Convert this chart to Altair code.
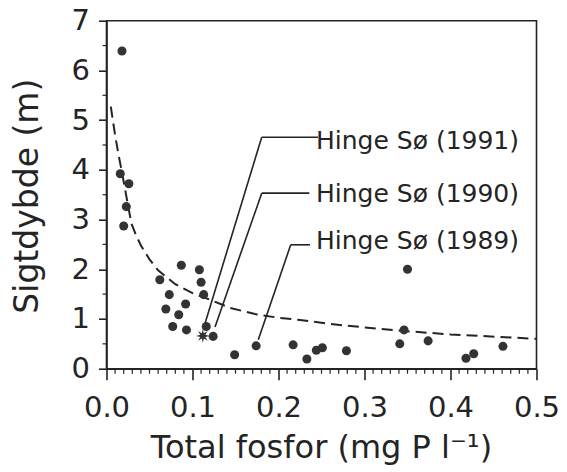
import altair as alt
import pandas as pd

# Observed lakes (total phosphorus mg P/l, Secchi depth m)
tp = [0.018, 0.016, 0.026, 0.023, 0.020, 0.062, 0.087, 0.108, 0.110, 0.073,
      0.113, 0.092, 0.069, 0.084, 0.077, 0.093, 0.116, 0.124, 0.149, 0.174,
      0.217, 0.233, 0.244, 0.251, 0.279, 0.341, 0.346, 0.350, 0.374, 0.418,
      0.427, 0.461]
secchi = [6.39, 3.92, 3.72, 3.26, 2.87, 1.79, 2.08, 1.99, 1.74, 1.49,
          1.49, 1.30, 1.20, 1.085, 0.85, 0.78, 0.85, 0.65, 0.28, 0.46,
          0.48, 0.195, 0.37, 0.42, 0.36, 0.50, 0.78, 2.00, 0.56, 0.21,
          0.30, 0.45]

# Star marker (Hinge Sø)
star_tp = [0.112]
star_secchi = [0.66]

# Dashed fitted curve
curve_tp = [0.005, 0.010, 0.014, 0.018, 0.024, 0.029, 0.034, 0.040, 0.050,
            0.060, 0.080, 0.100, 0.120, 0.144, 0.175, 0.202, 0.225, 0.260,
            0.300, 0.345, 0.400, 0.434, 0.500]
curve_secchi = [5.27, 4.70, 4.30, 3.95, 3.38, 2.92, 2.70, 2.48, 2.20,
                1.98, 1.70, 1.52, 1.39, 1.22, 1.09, 1.02, 0.98, 0.90,
                0.83, 0.76, 0.69, 0.66, 0.60]

# Annotations
labels = ["Hinge Sø (1991)", "Hinge Sø (1990)", "Hinge Sø (1989)"]
label_x = [0.2436, 0.2436, 0.2436]
label_y = [4.415, 3.362, 2.405]
# leader lines: knee point, end of horizontal, end at data point
knee_x = [0.1805, 0.1805, 0.2142]
knee_y = [4.656, 3.531, 2.492]
hend_x = [0.2459, 0.2358, 0.2366]
tip_x = [0.1126, 0.1262, 0.1765]
tip_y = [0.80, 0.84, 0.58]

x_major = [0.0, 0.1, 0.2, 0.3, 0.4, 0.5]
x_minor = [0.01, 0.02, 0.03, 0.04, 0.05, 0.06, 0.07, 0.08, 0.09,
           0.11, 0.12, 0.13, 0.14, 0.15, 0.16, 0.17, 0.18, 0.19,
           0.21, 0.22, 0.23, 0.24, 0.25, 0.26, 0.27, 0.28, 0.29,
           0.31, 0.32, 0.33, 0.34, 0.35, 0.36, 0.37, 0.38, 0.39,
           0.41, 0.42, 0.43, 0.44, 0.45, 0.46, 0.47, 0.48, 0.49]
y_major = [0, 1, 2, 3, 4, 5, 6, 7]
y_minor = [0.5, 1.5, 2.5, 3.5, 4.5, 5.5, 6.5]

W, H = 430, 348
INK = "#242424"
FONT = "DejaVu Sans"

xscale = alt.Scale(domain=[0, 0.5], nice=False, zero=False)
yscale = alt.Scale(domain=[0, 7], nice=False, zero=False)

xaxis = alt.Axis(values=x_major, format=".1f", title="Total fosfor (mg P l⁻¹)",
                 tickSize=11, labelPadding=14, labelFontSize=29,
                 labelFlush=False, labelOverlap=False,
                 titleFontSize=32, titleFontWeight="normal",
                 titleX=214.5, titleY=89, titleBaseline="alphabetic",
                 titleAlign="center", grid=False)
yaxis = alt.Axis(values=y_major, format="d", title="Sigtdybde (m)",
                 tickSize=8, labelPadding=9, labelFontSize=29,
                 labelFlush=False, labelOverlap=False,
                 titleFontSize=33, titleFontWeight="normal",
                 titleX=-69, titleY=175, titleAngle=270,
                 titleBaseline="alphabetic", titleAlign="center", grid=False)

pts = pd.DataFrame({"x": tp, "y": secchi})
stars = pd.DataFrame({"x": star_tp, "y": star_secchi})
curve = pd.DataFrame({"x": curve_tp, "y": curve_secchi})
ann = pd.DataFrame({"label": labels, "x": label_x, "y": label_y})
horiz = pd.DataFrame({"x": knee_x, "x2": hend_x, "y": knee_y})
diag = pd.DataFrame({"x": knee_x, "y": knee_y, "x2": tip_x, "y2": tip_y})
xmin_df = pd.DataFrame({"x": x_minor})
ymin_df = pd.DataFrame({"y": y_minor})

X = alt.X("x:Q", scale=xscale, axis=xaxis)
Y = alt.Y("y:Q", scale=yscale, axis=yaxis)

points = alt.Chart(pts).mark_circle(size=82, color="#333333", opacity=1).encode(x=X, y=Y)

star_shape = ("M0,-1L0.153,-0.37L0.707,-0.707L0.37,-0.153L1,0L0.37,0.153"
              "L0.707,0.707L0.153,0.37L0,1L-0.153,0.37L-0.707,0.707L-0.37,0.153"
              "L-1,0L-0.37,-0.153L-0.707,-0.707L-0.153,-0.37Z")
star = alt.Chart(stars).mark_point(shape=star_shape, size=190, filled=True,
                                   color="#333333", opacity=1).encode(x=X, y=Y)

line = alt.Chart(curve).mark_line(color=INK, strokeWidth=2,
                                  strokeDash=[11, 6]).encode(x=X, y=Y)

h_rules = alt.Chart(horiz).mark_rule(color=INK, strokeWidth=1.6).encode(
    x=X, x2="x2:Q", y=Y)
d_rules = alt.Chart(diag).mark_rule(color=INK, strokeWidth=1.6).encode(
    x=X, x2="x2:Q", y=Y, y2="y2:Q")

text = alt.Chart(ann).mark_text(align="left", baseline="alphabetic",
                                font=FONT, fontSize=25, color=INK).encode(
    x=X, y=Y, text="label:N")

xminor = alt.Chart(xmin_df).mark_rule(color=INK, strokeWidth=1.2).encode(
    x=X, y=alt.value(H), y2=alt.value(H + 5))
yminor = alt.Chart(ymin_df).mark_rule(color=INK, strokeWidth=1.2).encode(
    y=Y, x=alt.value(0), x2=alt.value(-4))

chart = alt.layer(line, h_rules, d_rules, points, star, text, xminor, yminor).properties(
    width=W, height=H,
    autosize=alt.AutoSizeParams(type="none"),
    padding={"left": 106.5, "top": 20.7, "right": 30.5, "bottom": 103.3},
    background="white",
).configure_view(
    stroke=INK, strokeWidth=1.6
).configure_axis(
    domainColor=INK, domainWidth=1.6, tickColor=INK, tickWidth=1.6,
    labelColor=INK, titleColor=INK, labelFont=FONT, titleFont=FONT,
)

chart.save("out.html", embed_options={"renderer": "svg", "actions": False})
